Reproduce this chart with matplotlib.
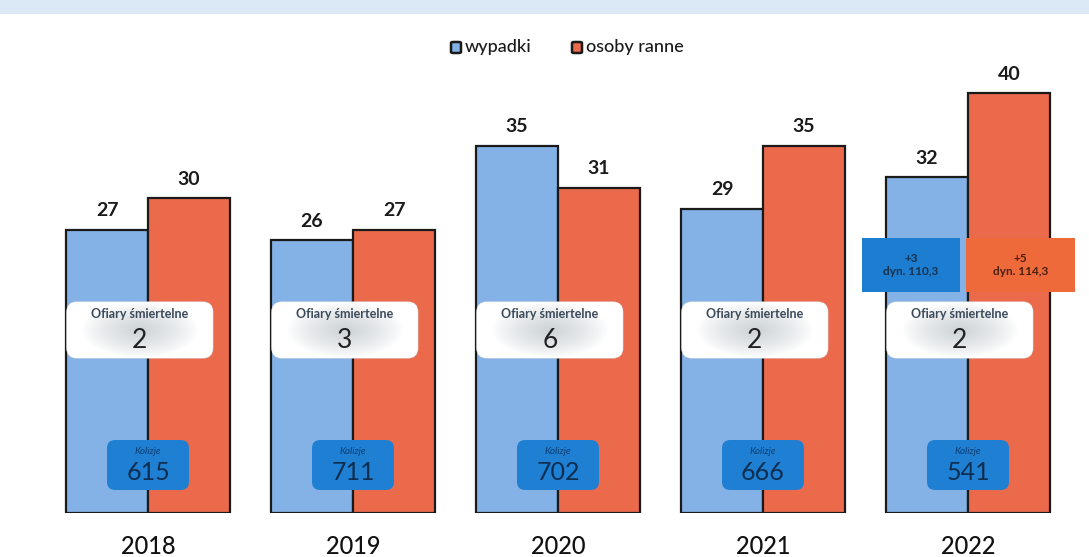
import matplotlib
matplotlib.use("Agg")
import matplotlib.pyplot as plt
import numpy as np
from matplotlib.patches import FancyBboxPatch, Rectangle

years = ["2018", "2019", "2020", "2021", "2022"]
wypadki = [27, 26, 35, 29, 32]
ranne = [30, 27, 31, 35, 40]
ofiary = [2, 3, 6, 2, 2]
kolizje = [615, 711, 702, 666, 541]
dyn_wyp = "+3\ndyn. 110,3"
dyn_ran = "+5\ndyn. 114,3"

BLUE = "#84b2e6"
RED = "#ec6a4c"
KBLUE = "#1f7fd2"

plt.rcParams['font.family'] = ['Lato', 'DejaVu Sans']

W, H = 1089, 557
fig = plt.figure(figsize=(W / 100, H / 100), dpi=100)
fig.patch.set_facecolor("white")

PXU = 10.49
Y0 = 513
x0 = -148 / 205
x1 = (W - 148) / 205
ytop = Y0 / PXU
ax = fig.add_axes([0, (H - Y0) / H, 1, Y0 / H])
ax.set_xlim(x0, x1)
ax.set_ylim(0, ytop)
ax.axis("off")

def yd(py):
    return (Y0 - py) / PXU

# faint scanned band at top
fig.patches.append(Rectangle((0, 1 - 14 / H), 1, 14 / H, transform=fig.transFigure,
                             facecolor="#dbe8f5", edgecolor="none", zorder=0))

x = np.arange(len(years))
bw = 0.4
ax.bar(x - bw / 2, wypadki, bw, color=BLUE, edgecolor="#1a1a1a", linewidth=1.6, zorder=2)
ax.bar(x + bw / 2, ranne, bw, color=RED, edgecolor="#1a1a1a", linewidth=1.6, zorder=2)

for i in range(len(years)):
    ax.text(x[i] - bw / 2, wypadki[i] + 1.0, str(wypadki[i]), ha="center", va="bottom",
            fontsize=14, fontweight="bold", color="#1a1a1a", zorder=5)
    ax.text(x[i] + bw / 2, ranne[i] + 1.0, str(ranne[i]), ha="center", va="bottom",
            fontsize=14, fontweight="bold", color="#1a1a1a", zorder=5)
    fig.text((148 + 205 * i) / W, 1 - 546 / H, years[i], ha="center", va="center",
             fontsize=17, color="#111111", fontweight="medium")

aspect = (1 / PXU) / (1 / 205)

gy, gx = np.mgrid[-1:1:60j, -1:1:150j]
r = np.sqrt((gx / 0.8) ** 2 + (gy / 1.0) ** 2)
grad = np.clip(1 - r, 0, 1) ** 0.8
cmap = matplotlib.colors.LinearSegmentedColormap.from_list("g", ["#ffffff", "#cdd3d6"])

for i in range(len(years)):
    cx = x[i] - 0.04
    bx0, bx1 = cx - 0.356, cx + 0.356
    by0, by1 = yd(358), yd(302)
    box = FancyBboxPatch((bx0, by0), bx1 - bx0, by1 - by0,
                         boxstyle="round,pad=0,rounding_size=0.05", mutation_aspect=aspect,
                         facecolor="white", edgecolor="#dddddd", linewidth=0.8, zorder=3)
    ax.add_patch(box)
    im = ax.imshow(grad, extent=(bx0, bx1, by0, by1), cmap=cmap, vmin=0, vmax=1,
                   aspect="auto", zorder=3.5, interpolation="bilinear")
    im.set_clip_path(box)
    ax.text(cx, yd(314), "Ofiary śmiertelne", ha="center", va="center", fontsize=9,
            color="#3a4a5a", fontweight="bold", zorder=4)
    ax.text(cx, yd(340), str(ofiary[i]), ha="center", va="center", fontsize=19,
            color="#222222", zorder=4)

    kx0, kx1 = x[i] - 0.2, x[i] + 0.2
    ky0, ky1 = yd(490), yd(440)
    ax.add_patch(FancyBboxPatch((kx0, ky0), kx1 - kx0, ky1 - ky0,
                                boxstyle="round,pad=0,rounding_size=0.04", mutation_aspect=aspect,
                                facecolor=KBLUE, edgecolor="none", zorder=3))
    ax.text(x[i], yd(452), "Kolizje", ha="center", va="center", fontsize=7,
            color="#0b3f73", style="italic", zorder=4)
    ax.text(x[i], yd(473), str(kolizje[i]), ha="center", va="center", fontsize=18,
            color="#0d2e50", zorder=4)

# 2022 dynamics boxes
ax.add_patch(Rectangle((3.483, yd(292)), 0.478, yd(238) - yd(292), facecolor="#1d7dd0",
                       edgecolor="none", zorder=3))
ax.text(3.722, yd(265), dyn_wyp, ha="center", va="center", fontsize=8.5, fontweight="bold",
        color="#16324f", linespacing=1.3, zorder=4)
ax.add_patch(Rectangle((3.99, yd(292)), 0.53, yd(238) - yd(292), facecolor="#ef6a3a",
                       edgecolor="none", zorder=3))
ax.text(4.255, yd(265), dyn_ran, ha="center", va="center", fontsize=8.5, fontweight="bold",
        color="#4a2010", linespacing=1.3, zorder=4)

def leg_item(px, color, label):
    fig.patches.append(FancyBboxPatch((px / W, 1 - 53 / H), 10 / W, 11 / H,
                                      boxstyle="round,pad=0,rounding_size=0.002",
                                      transform=fig.transFigure, facecolor=color,
                                      edgecolor="#1a1a1a", linewidth=1.8))
    fig.text((px + 14) / W, 1 - 47 / H, label, ha="left", va="center", fontsize=13,
             color="#1a1a1a", fontweight="medium")

leg_item(451, BLUE, "wypadki")
leg_item(572, RED, "osoby ranne")

fig.savefig("out.png", dpi=100, facecolor="white")
